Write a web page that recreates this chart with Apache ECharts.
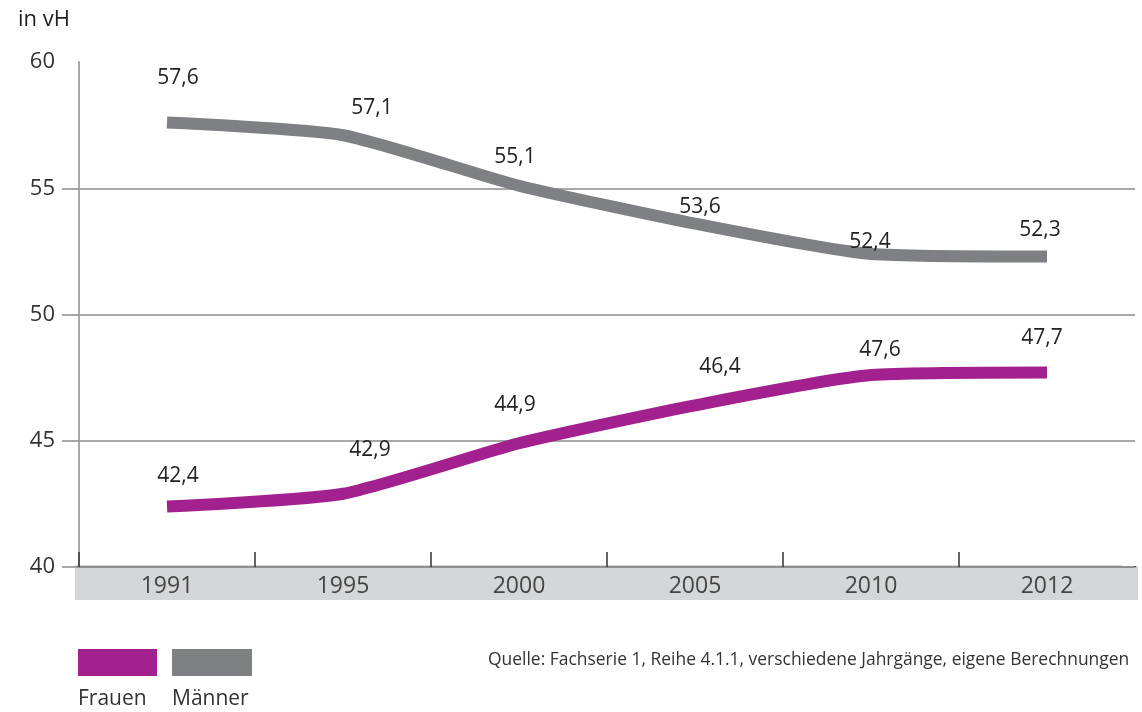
<!DOCTYPE html>
<html><head><meta charset="utf-8">
<script src="https://cdn.jsdelivr.net/npm/echarts@6/dist/echarts.min.js"></script>
<style>html,body{margin:0;padding:0;background:#fff}#c{width:1142px;height:712px}</style>
</head><body><div id="c"></div>
<script>
// ---- data ----
var categories = ['1991','1995','2000','2005','2010','2012'];
var frauen = [42.4, 42.9, 44.9, 46.4, 47.6, 47.7];
var maenner = [57.6, 57.1, 55.1, 53.6, 52.4, 52.3];
var seriesNames = ['Frauen','Männer'];
var yTicks = [40, 45, 50, 55, 60];
var yUnit = 'in vH';
var sourceText = 'Quelle: Fachserie 1, Reihe 4.1.1, verschiedene Jahrgänge, eigene Berechnungen';

// ---- styling ----
var FONT = 'Open Sans';
var colF = '#a2218e', colM = '#7f8083';
var offF = [[11,-30],[27,-44],[-4,-38],[25,-38],[9,-25],[-5,-35]];
var offM = [[11,-45],[29,-27],[-4,-29],[5,-17],[-1,-12],[-7,-26]];

function fmt(v){ return v.toFixed(1).replace('.', ','); }
function mk(vals, offs){
  return vals.map(function(v,i){
    return {value:v, label:{offset:offs[i]}};
  });
}
function lineSeries(name, vals, offs, color){
  return {
    name:name, type:'line', data:mk(vals, offs), smooth:0.2,
    symbol:'circle', symbolSize:1, showSymbol:true,
    itemStyle:{color:'rgba(0,0,0,0)'},
    lineStyle:{color:color, width:12, cap:'butt'},
    label:{show:true, position:'inside', color:'#222', fontFamily:FONT, fontSize:21,
      formatter:function(p){return fmt(p.value);}},
    emphasis:{disabled:true}, z:5
  };
}

var chart = echarts.init(document.getElementById('c'), null, {renderer:'canvas'});
chart.setOption({
  animation:false,
  grid:{left:79, right:7, top:62, bottom:145},
  xAxis:{
    type:'category', data:categories, boundaryGap:true,
    axisLine:{show:true, lineStyle:{color:'#8a8a8a', width:1.5}},
    axisTick:{show:true, inside:true, length:15, lineStyle:{color:'#333', width:1.5},
      interval:0},
    axisLabel:{color:'#444', fontFamily:FONT, fontSize:23, margin:8},
    splitLine:{show:false}
  },
  yAxis:{
    type:'value', min:40, max:60, interval:5,
    axisLine:{show:true, lineStyle:{color:'#a8a8a8', width:2}},
    axisTick:{show:true, length:17, customValues:yTicks.slice(0,4), lineStyle:{color:'#8a8a8a', width:1.5}},
    axisLabel:{color:'#333', fontFamily:FONT, fontSize:22, margin:24,
      customValues:yTicks},
    splitLine:{show:true, lineStyle:{color:['#8a8a8a','#8a8a8a','#8a8a8a','#8a8a8a','rgba(0,0,0,0)'], width:1.5}}
  },
  series:[
    lineSeries(seriesNames[1], maenner, offM, colM),
    lineSeries(seriesNames[0], frauen, offF, colF)
  ],
  graphic:[
    {type:'rect', z:-1, silent:true, shape:{x:75, y:565, width:1063, height:35}, style:{fill:'#d5d6d7'}},
    {type:'rect', zlevel:1, silent:true, shape:{x:1122, y:538, width:20, height:28}, style:{fill:'#fff'}},
    {type:'text', left:18, top:9, style:{text:yUnit, fill:'#222', font:'22px "'+FONT+'"'}},
    {type:'rect', shape:{x:78, y:649, width:79, height:27}, style:{fill:colF}},
    {type:'rect', shape:{x:172, y:649, width:80, height:27}, style:{fill:colM}},
    {type:'text', left:78, top:689, style:{text:seriesNames[0], fill:'#333', font:'21px "'+FONT+'"'}},
    {type:'text', left:172, top:689, style:{text:seriesNames[1], fill:'#333', font:'21px "'+FONT+'"'}},
    {type:'text', x:488, y:650, scaleX:0.918, style:{text:sourceText, fill:'#333', font:'19px "'+FONT+'"'}}
  ]
});
</script></body></html>
